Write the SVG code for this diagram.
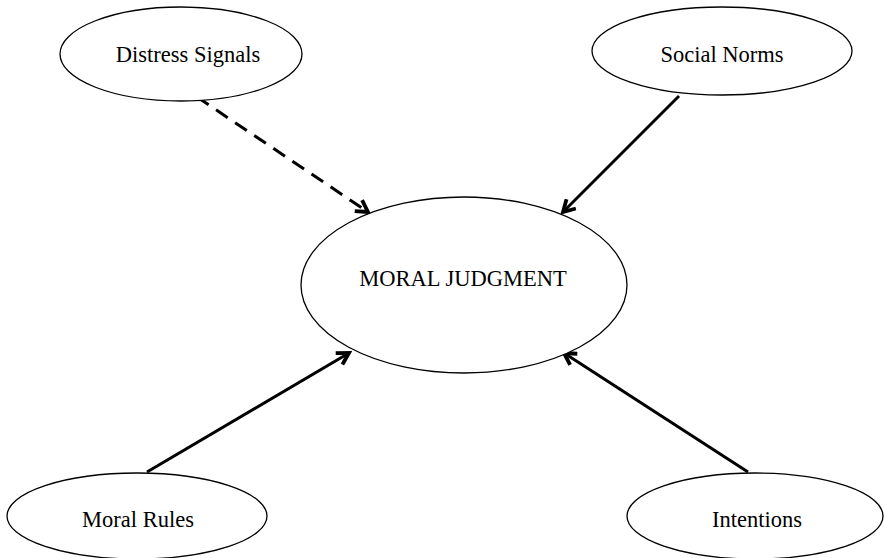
<svg xmlns="http://www.w3.org/2000/svg" width="885" height="558" viewBox="0 0 885 558">
<defs>
<style>
.node ellipse{fill:#fff;stroke:#000;stroke-width:1.3}
.node text{font-family:"Liberation Serif","Times New Roman",serif;font-size:22.5px;fill:#000;text-anchor:middle;dominant-baseline:central}
.edge{stroke:#000;stroke-width:3;fill:none;marker-end:url(#arr)}
.dash{stroke-dasharray:14 9}
</style>
<marker id="arr" viewBox="0 0 10 10" refX="8" refY="5" markerWidth="5.5" markerHeight="5.5" orient="auto" markerUnits="strokeWidth">
<path d="M1,1 L8,5 L1,9" fill="none" stroke="#000" stroke-width="2.3"/>
</marker>
</defs>
<rect width="885" height="558" fill="#fff"/>
<g id="connectors">
<line class="edge dash" x1="197" y1="97" x2="368" y2="212"/>
<line class="edge" x1="679" y1="96" x2="563" y2="212"/>
<line class="edge" x1="147" y1="472" x2="349" y2="353"/>
<line class="edge" x1="748" y1="472" x2="564" y2="353"/>
</g>
<g id="distress" class="node">
<ellipse cx="181" cy="54" rx="121" ry="47"/>
<text x="188" y="54">Distress Signals</text>
</g>
<g id="social" class="node">
<ellipse cx="722" cy="51" rx="130" ry="44"/>
<text x="722" y="54">Social Norms</text>
</g>
<g id="moral" class="node">
<ellipse cx="464" cy="285" rx="163" ry="88"/>
<text x="463" y="278">MORAL JUDGMENT</text>
</g>
<g id="rules" class="node">
<ellipse cx="137" cy="516" rx="130" ry="43"/>
<text x="138" y="519">Moral Rules</text>
</g>
<g id="intentions" class="node">
<ellipse cx="755" cy="516" rx="128" ry="43"/>
<text x="757" y="519">Intentions</text>
</g>
</svg>
